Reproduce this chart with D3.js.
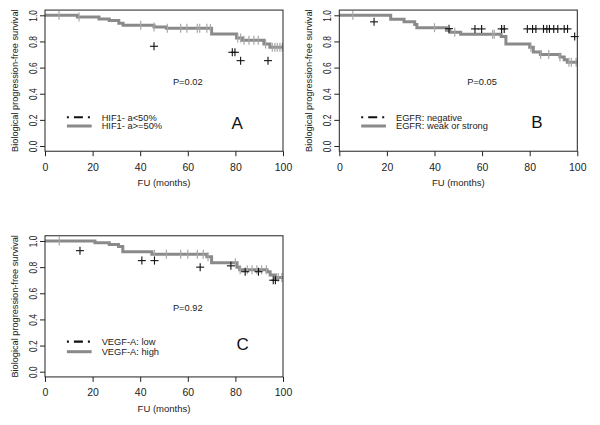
<!DOCTYPE html>
<html><head><meta charset="utf-8">
<script src="https://cdn.jsdelivr.net/npm/d3@7"></script>
<style>html,body{margin:0;padding:0;background:#fff;} svg{display:block;font-family:"Liberation Sans",Arial,sans-serif;}</style>
</head><body><svg id="c" width="600" height="425"></svg>
<script>
// ---------- data ----------
const monthTicks = [0, 20, 40, 60, 80, 100];
const survTicks = [0, 0.2, 0.4, 0.6, 0.8, 1.0];
const panelLabels = ["A", "B", "C"];
const pValues = ["P=0.02", "P=0.05", "P=0.92"];
const legendLow = ["HIF1- a<50%", "EGFR: negative", "VEGF-A: low"];
const legendHigh = ["HIF1- a>=50%", "EGFR: weak or strong", "VEGF-A: high"];

// Panel A (HIF1-a)
const aTimes = [0, 13.6, 22.7, 27, 31, 32.8, 45.8, 51, 70, 80.5, 83, 92, 94.5, 100];
const aSurv  = [1, 0.987, 0.972, 0.96, 0.94, 0.923, 0.91, 0.90, 0.857, 0.827, 0.81, 0.78, 0.755, 0.755];
const aCensor = [5.9, 14.3, 40.2, 45.8, 51.4, 57, 59.6, 64, 65, 68, 69.5, 81, 82.2, 83.6, 85.7, 87.8, 89.6, 92.7, 95.5, 96.6, 97.6, 98.7, 99.7];
const aLowT = [45.8, 78.7, 79.8, 82.2, 93.7];
const aLowS = [0.763, 0.717, 0.717, 0.653, 0.653];

// Panel B (EGFR)
const bTimes = [0, 21.6, 27.2, 31.7, 32.6, 45, 46.4, 51, 68, 70, 80, 81.5, 84.5, 92.7, 94.5, 95.8, 100];
const bSurv  = [1, 0.97, 0.95, 0.93, 0.905, 0.886, 0.87, 0.855, 0.837, 0.78, 0.755, 0.72, 0.70, 0.68, 0.66, 0.64, 0.64];
const bCensor = [5.7, 40, 48.5, 64.4, 65.1, 80.5, 84.6, 88, 92.7, 96.5, 97.5, 99.5];
const bLowT = [14.6, 46.1, 57, 59.8, 68.2, 69.3, 79, 81.2, 82.6, 85.8, 87.2, 88.3, 90.1, 91.8, 94.5, 95.9, 98.9];
const bLowS = [0.95, 0.898, 0.896, 0.896, 0.896, 0.896, 0.896, 0.896, 0.896, 0.896, 0.896, 0.896, 0.896, 0.896, 0.896, 0.896, 0.837];

// Panel C (VEGF-A)
const cTimes = [0, 21, 27, 30.9, 32.7, 44.9, 68, 70, 80.7, 81.8, 93.3, 94.6, 96.8, 100];
const cSurv  = [1, 0.987, 0.974, 0.957, 0.918, 0.898, 0.88, 0.834, 0.80, 0.78, 0.765, 0.74, 0.72, 0.72];
const cCensor = [6, 46, 51, 57, 60, 64, 66.5, 68.5, 80, 82, 85, 87, 89, 91, 93, 98, 99.5];
const cLowT = [14.7, 40.7, 46, 65.2, 78.1, 84.1, 89.7, 95.9, 96.8];
const cLowS = [0.926, 0.85, 0.85, 0.80, 0.81, 0.765, 0.765, 0.70, 0.70];

// ---------- layout ----------
const layout = [
  {x0: 45, x1: 283, yTop: 15.3, yBot: 146, letter: [80.7, 0.176]},
  {x0: 339.3, x1: 577.3, yTop: 15.3, yBot: 146, letter: [83, 0.18]},
  {x0: 45, x1: 283, yTop: 241, yBot: 371.7, letter: [83, 0.21]}
];
const series = [
  {t: aTimes, s: aSurv, cens: aCensor, lt: aLowT, ls: aLowS},
  {t: bTimes, s: bSurv, cens: bCensor, lt: bLowT, ls: bLowS},
  {t: cTimes, s: cSurv, cens: cCensor, lt: cLowT, ls: cLowS}
];

const svg = d3.select("#c");
const GRAY = "#8a8a8a";

series.forEach((d, i) => {
  const L = layout[i];
  const x = d3.scaleLinear().domain([0, 100]).range([L.x0, L.x1]);
  const y = d3.scaleLinear().domain([0, 1]).range([L.yBot, L.yTop]);
  const g = svg.append("g");
  const boxTop = y(1.04), boxBot = y(-0.04);

  // high group step curve
  const pts = d.t.map((t, k) => [t, d.s[k]]);
  g.append("path").datum(pts)
    .attr("d", d3.line().x(p => x(p[0])).y(p => y(p[1])).curve(d3.curveStepAfter))
    .attr("fill", "none").attr("stroke", GRAY).attr("stroke-width", 3);

  // censor marks on gray curve
  const stepAt = t => { let v = d.s[0]; d.t.forEach((tt, k) => { if (tt <= t) v = d.s[k]; }); return v; };
  d.cens.forEach(t => {
    const cx = x(t), cy = y(stepAt(t));
    g.append("line").attr("x1", cx).attr("x2", cx).attr("y1", cy - 4.5).attr("y2", cy + 4.5)
      .attr("stroke", "#a8a8a8").attr("stroke-width", 1.2);
  });

  // low group censor crosses
  d.lt.forEach((t, k) => {
    const cx = x(t), cy = y(d.ls[k]);
    g.append("line").attr("x1", cx - 4).attr("x2", cx + 4).attr("y1", cy).attr("y2", cy)
      .attr("stroke", "#111").attr("stroke-width", 1.1);
    g.append("line").attr("x1", cx).attr("x2", cx).attr("y1", cy - 4).attr("y2", cy + 4)
      .attr("stroke", "#111").attr("stroke-width", 1.1);
  });

  // box
  g.append("rect").attr("x", L.x0).attr("y", boxTop).attr("width", L.x1 - L.x0).attr("height", boxBot - boxTop)
    .attr("fill", "none").attr("stroke", "#222").attr("stroke-width", 1);

  // x axis
  const xa = g.append("g").attr("transform", `translate(0,${boxBot})`)
    .call(d3.axisBottom(x).tickValues(monthTicks).tickSize(5).tickPadding(7).tickFormat(d3.format("d")));
  xa.select(".domain").remove();
  xa.selectAll("line").attr("stroke", "#222");
  xa.selectAll("text").attr("font-size", "10.5px").attr("fill", "#222").attr("font-family", "Liberation Sans, Arial, sans-serif");

  // y axis
  const ya = g.append("g").attr("transform", `translate(${L.x0},0)`)
    .call(d3.axisLeft(y).tickValues(survTicks).tickSize(5).tickFormat(d3.format(".1f")));
  ya.select(".domain").remove();
  ya.selectAll("line").attr("stroke", "#222");
  ya.selectAll("text").attr("x", null).attr("dy", null)
    .attr("text-anchor", "middle").attr("font-size", "10.5px").attr("fill", "#222")
    .attr("font-family", "Liberation Sans, Arial, sans-serif")
    .attr("transform", "translate(-8,0) rotate(-90) scale(0.8,1)");

  // axis titles
  g.append("text").attr("x", (L.x0 + L.x1) / 2).attr("y", boxBot + 35)
    .attr("text-anchor", "middle").attr("font-size", "9.5px").attr("fill", "#222").text("FU (months)");
  g.append("text").attr("transform", `translate(${L.x0 - 27.5},${(L.yTop + L.yBot) / 2}) rotate(-90)`)
    .attr("text-anchor", "middle").attr("font-size", "9.2px").attr("fill", "#222")
    .text("Biological progression-free survival");

  // p value
  g.append("text").attr("x", x(60)).attr("y", y(0.49) + 3.3).attr("text-anchor", "middle")
    .attr("font-size", "9.3px").attr("fill", "#222").text(pValues[i]);

  // legend
  const ly1 = y(i === 2 ? 0.23 : 0.22), ly2 = y(0.153);
  g.append("line").attr("x1", x(9.2)).attr("x2", x(19.6)).attr("y1", ly1).attr("y2", ly1)
    .attr("stroke", "#111").attr("stroke-width", 2.2).attr("stroke-dasharray", "2,5,9,5,2,40");
  g.append("line").attr("x1", x(9.2)).attr("x2", x(19.6)).attr("y1", ly2).attr("y2", ly2)
    .attr("stroke", GRAY).attr("stroke-width", 3);
  g.append("text").attr("x", x(23.8)).attr("y", ly1 + 3.3).attr("font-size", "9.3px").attr("fill", "#222").text(legendLow[i]);
  g.append("text").attr("x", x(23.8)).attr("y", ly2 + 3.3).attr("font-size", "9.3px").attr("fill", "#222").text(legendHigh[i]);

  // panel letter
  g.append("text").attr("x", x(L.letter[0])).attr("y", y(L.letter[1]) + 6)
    .attr("text-anchor", "middle").attr("font-size", "17px").attr("fill", "#111").text(panelLabels[i]);
});
</script></body></html>
